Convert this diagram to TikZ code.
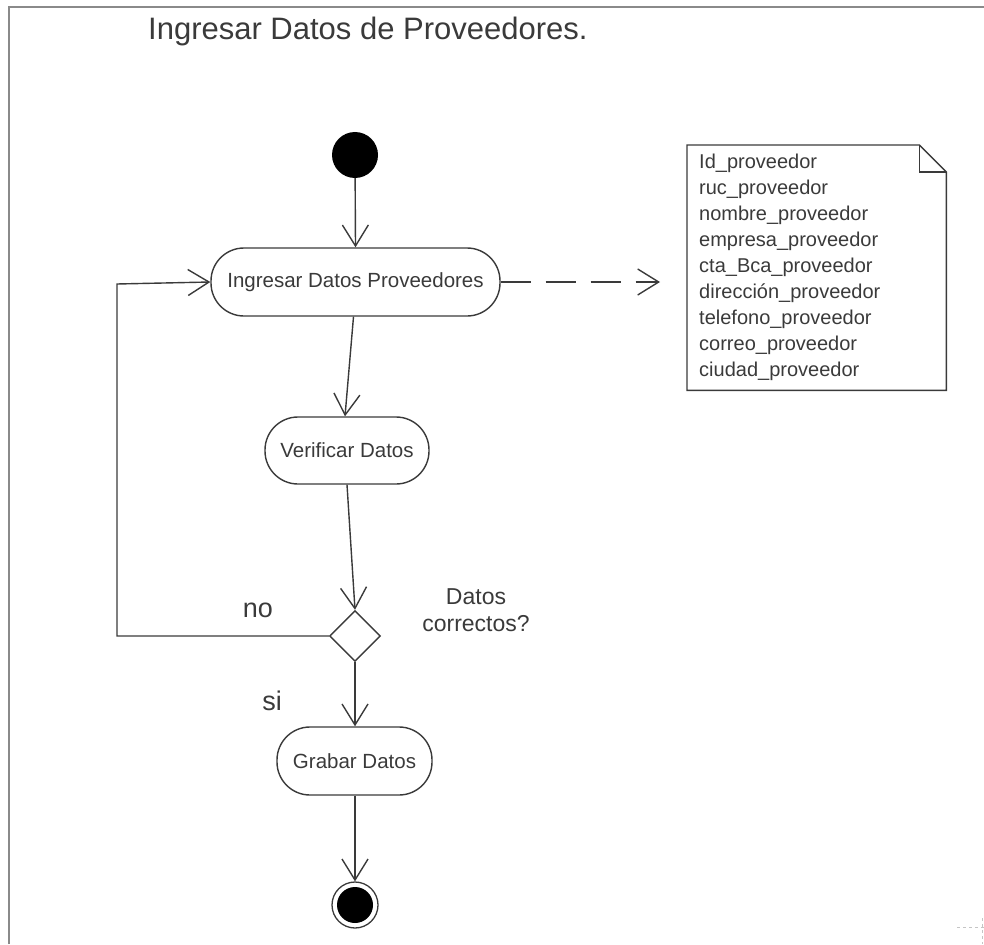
\documentclass[tikz,border=0pt]{standalone}
\usepackage{fontspec}
\setmainfont{Liberation Sans}
\usetikzlibrary{arrows.meta,shapes.geometric,calc}
\definecolor{ink}{HTML}{3A3A3A}
\definecolor{framegray}{HTML}{8A8A8A}
\begin{document}
\begin{tikzpicture}[x=1pt,y=-1pt,
  lnk/.style={draw=ink, line width=1.4pt},
  flow/.style={lnk, -{Straight Barb[length=21pt,width=26pt,line width=1.4pt]}},
  act/.style={draw=ink, line width=1.4pt, rounded corners=33pt, inner sep=0pt,
    font=\fontsize{20.5}{24}\selectfont, text=ink},
  lbl/.style={text=ink, inner sep=0pt},
]
\useasboundingbox (0,0) rectangle (984,944);
% page frame
\draw[framegray, line width=2.5pt] (9,944) -- (9,7) -- (984,7);
\draw[framegray!50, dashed, line width=1pt] (957,927) -- (984,927);
\draw[framegray!50, dashed, line width=1pt] (982,918) -- (982,944);

% title
\node[lbl, anchor=base west, font=\fontsize{31}{36}\selectfont] (title) at (148,40) {Ingresar Datos de Proveedores.};

% initial and final states
\node[circle, fill=black, minimum size=46pt, inner sep=0pt] (start) at (355,155) {};
\node[circle, draw=ink, line width=1.3pt, minimum size=46pt, inner sep=0pt] (stop) at (355,905) {};
\node[circle, fill=black, minimum size=36pt, inner sep=0pt] (stopdot) at (355,905) {};

% actions
\node[act, minimum width=289pt, minimum height=68pt] (ingresar) at (355.5,282) {Ingresar Datos Proveedores};
\node[act, minimum width=164pt, minimum height=67pt] (verificar) at (347,450.5) {Verificar Datos};
\node[act, minimum width=155pt, minimum height=68pt] (grabar) at (354.5,761) {Grabar Datos};

% decision
\node[diamond, draw=ink, line width=1.4pt, minimum width=51pt, minimum height=51pt, inner sep=0pt] (dec) at (355,636) {};
\node[lbl, align=center, font=\fontsize{23}{27}\selectfont] (declabel) at (476,610) {Datos\\correctos?};
\node[lbl, font=\fontsize{27}{30}\selectfont] (nolabel) at (258,610) {no};
\node[lbl, font=\fontsize{27}{30}\selectfont] (silabel) at (272,701) {si};

% note with attributes
\node[text=ink, anchor=north west, minimum width=259pt, minimum height=245pt,
  text width=235pt, inner xsep=12pt, inner ysep=0pt, align=left,
  font=\fontsize{20}{26}\selectfont] (note) at (687,145)
  {Id\_proveedor\\ruc\_proveedor\\nombre\_proveedor\\empresa\_proveedor\\cta\_Bca\_proveedor\\dirección\_proveedor\\telefono\_proveedor\\correo\_proveedor\\ciudad\_proveedor\\[-6pt]};
\draw[ink, line width=1.4pt, line join=miter]
  (note.north west) -- ($(note.north east)+(-27,0)$) -- ($(note.north east)+(0,27)$)
  -- (note.south east) -- (note.south west) -- cycle;
\draw[ink, line width=1.4pt] ($(note.north east)+(-27,0)$) |- ($(note.north east)+(0,27)$);
\coordinate (notetip) at (660,282);

% connectors
\draw[flow] (start) -- (ingresar.north);
\draw[flow] ([xshift=-2pt]ingresar.south) -- ([xshift=-2pt]verificar.north);
\draw[flow] (verificar.south) -- (dec.north);
\draw[flow] (dec.south) -- ([xshift=0.5pt]grabar.north);
\draw[flow] ([xshift=0.5pt]grabar.south) -- (stop.north);
\draw[flow] (dec.west) -- (117,636) -- (117,284) -- (ingresar.west);
\draw[lnk, dash pattern=on 30pt off 15pt, -{Straight Barb[length=21pt,width=26pt,line width=1.4pt]}]
  (ingresar.east) -- (notetip);
\end{tikzpicture}
\end{document}
